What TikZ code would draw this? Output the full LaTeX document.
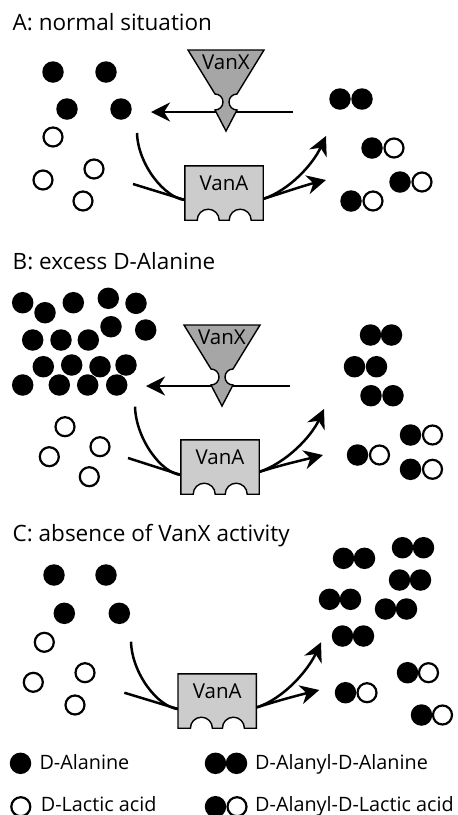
\documentclass[tikz,border=0pt]{standalone}
\usepackage{fontspec}
\setmainfont{Open Sans}
\usetikzlibrary{positioning,arrows.meta}

\tikzset{
  ala/.style={circle, fill=black, minimum size=21.5pt, inner sep=0pt},
  lac/.style={circle, draw=black, fill=white, line width=2.2pt, minimum size=19pt, inner sep=0pt},
  feed/.style={line width=2.5pt},
  flow/.style={line width=2.5pt, -{Stealth[length=19pt,width=19pt,inset=6pt]}},
  enzA/.style={draw=black, fill=black!20, line width=1.4pt, line join=miter},
  enzX/.style={draw=black, fill=black!35, line width=1.4pt, line join=miter},
  enzbox/.style={rectangle, minimum width=78pt, minimum height=54pt, inner sep=0pt},
  enzlabel/.style={font=\fontsize{20.5}{24}\selectfont, inner sep=0pt},
  paneltitle/.style={font=\fontsize{22.5}{27}\selectfont, anchor=base west, inner sep=0pt},
  legendtext/.style={font=\fontsize{19.8}{23}\selectfont, anchor=base west, inner sep=0pt}
}

% VanA: box with two pockets in the bottom edge
\newcommand{\vanAbody}[1]{%
  \draw[enzA] (#1.north west) -- (#1.north east) -- (#1.south east) -- ++(-12,0)
    arc[start angle=0, end angle=-180, radius=11] -- ++(-10,0)
    arc[start angle=0, end angle=-180, radius=11] -- (#1.south west) -- cycle;
  \node[enzlabel, below=10pt of #1.north] (#1-lbl) {VanA};}

% VanX: funnel with a pinched neck, hung from its top centre
\newcommand{\vanXbody}[3]{%
  \begin{scope}[shift={(#2,#3)}]
  \draw[enzX] (-38,0) -- (38,0) -- (11,44)
    arc[start angle=270, end angle=90, radius=8] -- (0,81) -- (-11,60)
    arc[start angle=90, end angle=-90, radius=8] -- cycle;
  \node[enzlabel] (#1) at (0,12.5) {VanX};
  \end{scope}}

\begin{document}
\begin{tikzpicture}[x=1pt, y=-1pt]
\useasboundingbox (0,0) rectangle (458,815);

%%% A
\node[paneltitle] (a-title) at (12.5,30.5) {A: normal situation};
\node[ala] (a-ala1) at (53,72) {};
\node[ala] (a-ala2) at (106,72) {};
\node[ala] (a-ala3) at (67,109) {};
\node[ala] (a-ala4) at (121,109) {};
\node[lac] (a-lac1) at (53,137) {};
\node[lac] (a-lac2) at (43,180) {};
\node[lac] (a-lac3) at (94,169) {};
\node[lac] (a-lac4) at (83,201) {};
\node[ala] (a-aa1l) at (340,99) {};
\node[ala] (a-aa1r) at (362,99) {};
\node[ala] (a-al1l) at (372,148) {};
\node[lac] (a-al1r) at (394,148) {};
\node[ala] (a-al2l) at (400,182) {};
\node[lac] (a-al2r) at (422,182) {};
\node[ala] (a-al3l) at (351,201) {};
\node[lac] (a-al3r) at (373,201) {};

\coordinate (a-cut-from) at (293,112);
\coordinate (a-cut-to) at (151,112);
\draw[flow] (a-cut-from) -- (a-cut-to);
\vanXbody{a-vanX}{226}{50}

\coordinate (a-ala-src) at (137,133);
\coordinate (a-lac-src) at (133,184);
\coordinate (a-in) at (185,200);
\coordinate (a-out) at (263,199);
\coordinate (a-tip1) at (326,136);
\coordinate (a-tip2) at (326,180);
\draw[feed] (a-ala-src) .. controls +(1,32) and +(-20,-2) .. (a-in);
\draw[feed] (a-lac-src) -- (a-in);
\draw[flow] (a-out) .. controls +(27,-9) and +(-13,28) .. (a-tip1);
\draw[flow] (a-out) .. controls +(22,-7) and +(-20,5) .. (a-tip2);
\node[enzbox] (a-vanA) at (224,193) {};
\vanAbody{a-vanA}

%%% B
\node[paneltitle] (b-title) at (12.5,269) {B: excess D-Alanine};
\node[ala] (b-ala1) at (22.7,302.7) {};
\node[ala] (b-ala2) at (45,312.7) {};
\node[ala] (b-ala3) at (73.3,302.7) {};
\node[ala] (b-ala4) at (108.3,298.3) {};
\node[ala] (b-ala5) at (136,303.3) {};
\node[ala] (b-ala6) at (111,326.7) {};
\node[ala] (b-ala7) at (145.7,330) {};
\node[ala] (b-ala8) at (32.7,340) {};
\node[ala] (b-ala9) at (61,340) {};
\node[ala] (b-ala10) at (88.3,340) {};
\node[ala] (b-ala11) at (43.3,366.7) {};
\node[ala] (b-ala12) at (71.7,365) {};
\node[ala] (b-ala13) at (100,366.7) {};
\node[ala] (b-ala14) at (126,365) {};
\node[ala] (b-ala15) at (22.7,385) {};
\node[ala] (b-ala16) at (59.3,385) {};
\node[ala] (b-ala17) at (87.7,385) {};
\node[ala] (b-ala18) at (116.7,385) {};
\node[lac] (b-lac1) at (65,426.7) {};
\node[lac] (b-lac2) at (100,446.7) {};
\node[lac] (b-lac3) at (49.3,456.7) {};
\node[lac] (b-lac4) at (89.3,476.7) {};
\node[ala] (b-aa1l) at (370.5,335) {};
\node[ala] (b-aa1r) at (391.5,335) {};
\node[ala] (b-aa2l) at (354.5,366.7) {};
\node[ala] (b-aa2r) at (376.5,366.7) {};
\node[ala] (b-aa3l) at (371,395.7) {};
\node[ala] (b-aa3r) at (393,395.7) {};
\node[ala] (b-al1l) at (410.5,435) {};
\node[lac] (b-al1r) at (432.5,435) {};
\node[ala] (b-al2l) at (357.5,455) {};
\node[lac] (b-al2r) at (379.5,455) {};
\node[ala] (b-al3l) at (410.5,469.3) {};
\node[lac] (b-al3r) at (432.5,469.3) {};

\coordinate (b-cut-from) at (290,386);
\coordinate (b-cut-to) at (146,386);
\draw[flow] (b-cut-from) -- (b-cut-to);
\vanXbody{b-vanX}{222}{325}

\coordinate (b-ala-src) at (135,406.7);
\coordinate (b-lac-src) at (128,458);
\coordinate (b-in) at (181,475);
\coordinate (b-out) at (259,472);
\coordinate (b-tip1) at (324,409);
\coordinate (b-tip2) at (323,455);
\draw[feed] (b-ala-src) .. controls +(1,32) and +(-20,-2) .. (b-in);
\draw[feed] (b-lac-src) -- (b-in);
\draw[flow] (b-out) .. controls +(27,-9) and +(-13,28) .. (b-tip1);
\draw[flow] (b-out) .. controls +(22,-7) and +(-20,5) .. (b-tip2);
\node[enzbox] (b-vanA) at (220,467) {};
\vanAbody{b-vanA}

%%% C
\node[paneltitle] (c-title) at (12.5,541.7) {C: absence of VanX activity};
\node[ala] (c-ala1) at (54,575) {};
\node[ala] (c-ala2) at (106,575) {};
\node[ala] (c-ala3) at (64.3,613.3) {};
\node[ala] (c-ala4) at (119.3,613.3) {};
\node[lac] (c-lac1) at (44.3,642.3) {};
\node[lac] (c-lac2) at (33.3,682.3) {};
\node[lac] (c-lac3) at (85,672.7) {};
\node[lac] (c-lac4) at (75,705) {};
\node[ala] (c-aa1l) at (343.5,558.3) {};
\node[ala] (c-aa1r) at (364.5,558.3) {};
\node[ala] (c-aa2l) at (402.5,547.7) {};
\node[ala] (c-aa2r) at (423.5,547.7) {};
\node[ala] (c-aa3l) at (399.5,580) {};
\node[ala] (c-aa3r) at (420.5,580) {};
\node[ala] (c-aa4l) at (329.5,599.3) {};
\node[ala] (c-aa4r) at (350.5,599.3) {};
\node[ala] (c-aa5l) at (385.5,609) {};
\node[ala] (c-aa5r) at (406.5,609) {};
\node[ala] (c-aa6l) at (342.5,636) {};
\node[ala] (c-aa6r) at (363.5,636) {};
\node[ala] (c-al1l) at (407.5,672.7) {};
\node[lac] (c-al1r) at (428.5,672.7) {};
\node[ala] (c-al2l) at (345.5,692.7) {};
\node[lac] (c-al2r) at (367,692.7) {};
\node[ala] (c-al3l) at (421.5,715) {};
\node[lac] (c-al3r) at (442.5,715) {};

\coordinate (c-ala-src) at (131,641.7);
\coordinate (c-lac-src) at (124.3,692.7);
\coordinate (c-in) at (178,709);
\coordinate (c-out) at (257,707.3);
\coordinate (c-tip1) at (321,642.3);
\coordinate (c-tip2) at (319.3,690);
\draw[feed] (c-ala-src) .. controls +(1,32) and +(-20,-2) .. (c-in);
\draw[feed] (c-lac-src) -- (c-in);
\draw[flow] (c-out) .. controls +(27,-9) and +(-13,28) .. (c-tip1);
\draw[flow] (c-out) .. controls +(22,-7) and +(-20,5) .. (c-tip2);
\node[enzbox] (c-vanA) at (217.2,701) {};
\vanAbody{c-vanA}

%%% key
\node[ala] (k-ala) at (20.5,763.3) {};
\node[legendtext] (k-ala-txt) at (39.3,769) {D-Alanine};
\node[lac] (k-lac) at (20.8,806.7) {};
\node[legendtext] (k-lac-txt) at (40.7,811) {D-Lactic acid};
\node[ala] (k-aal) at (215.5,763.3) {};
\node[ala] (k-aar) at (236.5,763.3) {};
\node[legendtext] (k-aa-txt) at (255,769) {D-Alanyl-D-Alanine};
\node[ala] (k-all) at (215.5,806.7) {};
\node[lac] (k-alr) at (237,806.7) {};
\node[legendtext] (k-al-txt) at (255,811) {D-Alanyl-D-Lactic acid};
\end{tikzpicture}
\end{document}
